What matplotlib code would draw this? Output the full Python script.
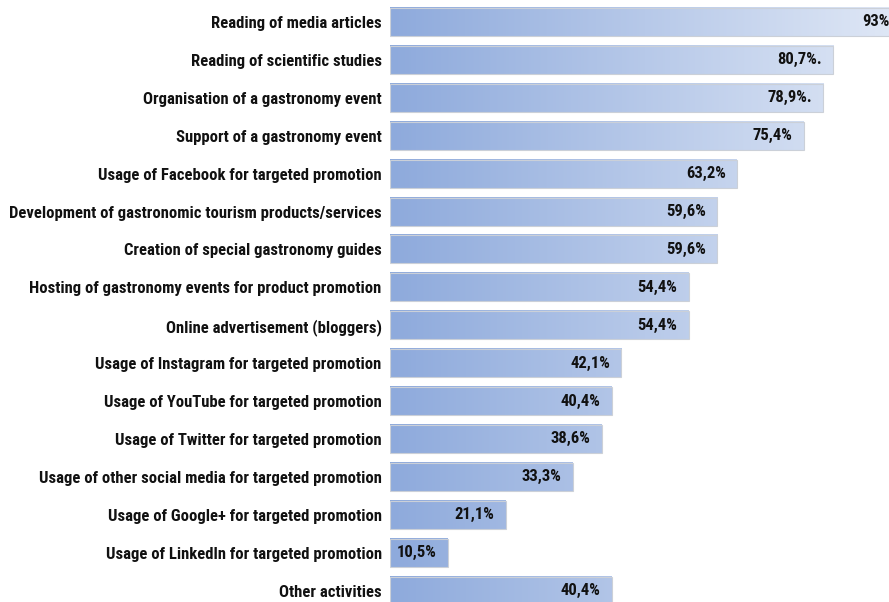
import numpy as np
import matplotlib
matplotlib.use("Agg")
from matplotlib import pyplot as plt
from matplotlib.colors import LinearSegmentedColormap
from matplotlib.patches import Rectangle

# data
activities = [
    "Reading of media articles",
    "Reading of scientific studies",
    "Organisation of a gastronomy event",
    "Support of a gastronomy event",
    "Usage of Facebook for targeted promotion",
    "Development of gastronomic tourism products/services",
    "Creation of special gastronomy guides",
    "Hosting of gastronomy events for product promotion",
    "Online advertisement (bloggers)",
    "Usage of Instagram for targeted promotion",
    "Usage of YouTube for targeted promotion",
    "Usage of Twitter for targeted promotion",
    "Usage of other social media for targeted promotion",
    "Usage of Google+ for targeted promotion",
    "Usage of LinkedIn for targeted promotion",
    "Other activities",
]
shares = [93, 80.7, 78.9, 75.4, 63.2, 59.6, 59.6, 54.4, 54.4, 42.1, 40.4, 38.6, 33.3, 21.1, 10.5, 40.4]
value_labels = ["93%", "80,7%.", "78,9%.", "75,4%", "63,2%", "59,6%", "59,6%", "54,4%",
                "54,4%", "42,1%", "40,4%", "38,6%", "33,3%", "21,1%", "10,5%", "40,4%"]

plt.rcParams['font.family'] = ['Roboto Condensed', 'DejaVu Sans']

fig = plt.figure(figsize=(8.89, 6.02), dpi=100)
ax = fig.add_axes([390 / 889, 0, 1 - 390 / 889, 1])

cmap = LinearSegmentedColormap.from_list("bars", ["#8EAADC", "#E0E8F6"])
gmax = 93.0
h = 0.74

for i, (v, lab) in enumerate(zip(shares, value_labels)):
    grad = np.linspace(0, v / gmax, 256).reshape(1, -1)
    ax.imshow(grad, cmap=cmap, vmin=0, vmax=1, aspect='auto',
              extent=(0, v, i + h / 2, i - h / 2), interpolation='bilinear', zorder=2)
    ax.add_patch(Rectangle((0, i - h / 2), v, h, fill=False, edgecolor='#cbd0d8',
                           linewidth=0.8, zorder=3))
    ax.annotate(lab, xy=(v, i), xytext=(-8, 0), textcoords='offset points',
                ha='right', va='center', fontsize=12, fontweight='bold', color='#111111',
                zorder=4, annotation_clip=False)

ax.set_xlim(0, 499 / 5.49)
ax.set_ylim(15.30, -0.58)
ax.set_yticks(range(len(activities)))
ax.set_yticklabels(activities, fontsize=12, fontweight='bold', color='#111111')
ax.tick_params(axis='y', length=0, pad=6)
ax.set_xticks([])
for s in ax.spines.values():
    s.set_visible(False)

fig.savefig('out.png', dpi=100)
